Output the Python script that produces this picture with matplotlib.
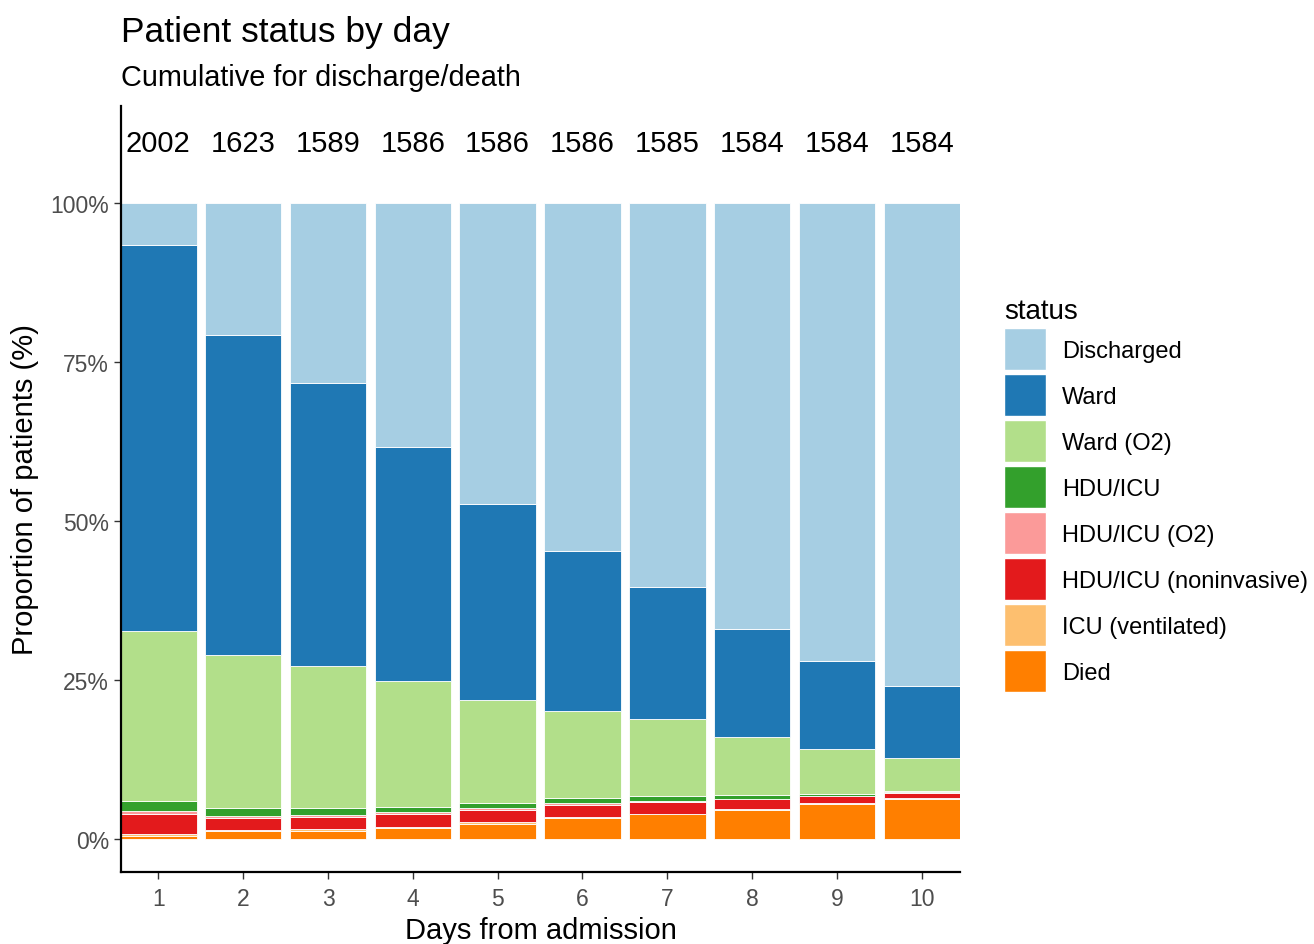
"""
Stacked proportion bars of patient status by day since admission.
"""

import numpy as np
import matplotlib
matplotlib.use("Agg")
import matplotlib.pyplot as plt
from matplotlib.patches import Patch

plt.rcParams["font.family"] = ["Liberation Sans", "DejaVu Sans"]

days = [1, 2, 3, 4, 5, 6, 7, 8, 9, 10]
n_patients = [2002, 1623, 1589, 1586, 1586, 1586, 1585, 1584, 1584, 1584]

# stacking order, bottom -> top
statuses = ["Died", "ICU (ventilated)", "HDU/ICU (noninvasive)", "HDU/ICU (O2)",
            "HDU/ICU", "Ward (O2)", "Ward", "Discharged"]
colors = ["#FF7F00", "#FDBF6F", "#E31A1C", "#FB9A99",
          "#33A02C", "#B2DF8A", "#1F78B4", "#A6CEE3"]

# percent of patients in each status, per day
died = [0.4, 1.2, 1.3, 1.8, 2.4, 3.3, 3.9, 4.6, 5.5, 6.3]
icu_vent = [0.3, 0.2, 0.3, 0.1, 0.2, 0.1, 0.1, 0.05, 0.1, 0.1]
hdu_noninv = [3.3, 1.9, 1.9, 2.1, 1.9, 1.9, 1.8, 1.6, 1.1, 0.9]
hdu_o2 = [0.4, 0.3, 0.3, 0.3, 0.3, 0.3, 0.2, 0.1, 0.1, 0.1]
hdu_icu = [1.6, 1.2, 1.1, 0.8, 0.8, 0.8, 0.7, 0.6, 0.2, 0.1]
ward_o2 = [26.7, 24.1, 22.3, 19.7, 16.3, 13.7, 12.2, 9.1, 7.2, 5.2]
ward = [60.7, 50.3, 44.5, 36.8, 30.8, 25.2, 20.7, 17.0, 13.8, 11.4]
discharged = [6.6, 20.8, 28.3, 38.4, 47.3, 54.7, 60.4, 67.0, 72.0, 75.9]

series = [died, icu_vent, hdu_noninv, hdu_o2, hdu_icu, ward_o2, ward, discharged]

fig = plt.figure(figsize=(13.14, 9.45), dpi=100)
ax = fig.add_axes([121 / 1314, 72 / 945, (960 - 121) / 1314, (873 - 107) / 945])

bottom = np.zeros(len(days))
for label, vals, col in zip(statuses, series, colors):
    vals = np.array(vals, dtype=float)
    ax.bar(days, vals, bottom=bottom, width=0.9, color=col,
           edgecolor="white", linewidth=0.6, label=label)
    bottom += vals

# patient counts above each bar
for d, n in zip(days, n_patients):
    ax.text(d, 109.5, str(n), ha="center", va="center", fontsize=21)

ax.set_xlim(0.56, 10.45)
ax.set_ylim(-5.2, 115.3)
ax.set_xticks(days)
ax.set_yticks([0, 25, 50, 75, 100])
ax.set_yticklabels(["0%", "25%", "50%", "75%", "100%"])
ax.tick_params(axis="both", labelsize=16.5, colors="#333333", labelcolor="#4D4D4D",
               length=5, width=1)
ax.tick_params(axis="x", pad=6)
for side in ["top", "right"]:
    ax.spines[side].set_visible(False)
for side in ["left", "bottom"]:
    ax.spines[side].set_linewidth(1.6)

ax.set_xlabel("Days from admission", fontsize=21, labelpad=4)
ax.set_ylabel("Proportion of patients (%)", fontsize=21, labelpad=8)

fig.text(121 / 1314, 1 - 42 / 945, "Patient status by day", fontsize=25.5, va="baseline")
fig.text(121 / 1314, 1 - 86 / 945, "Cumulative for discharge/death", fontsize=20.8,
         va="baseline")

handles = [Patch(facecolor=c, edgecolor="white", label=s)
           for s, c in zip(statuses[::-1], colors[::-1])]
leg = fig.legend(handles=handles, title="status", loc="upper left",
                 bbox_to_anchor=(983 / 1314, 1 - 278 / 945), frameon=False,
                 fontsize=17, title_fontsize=20, handlelength=1.78, handleheight=2.36,
                 labelspacing=0.17, handletextpad=0.66, alignment="left")

fig.savefig("out.png", dpi=100)
